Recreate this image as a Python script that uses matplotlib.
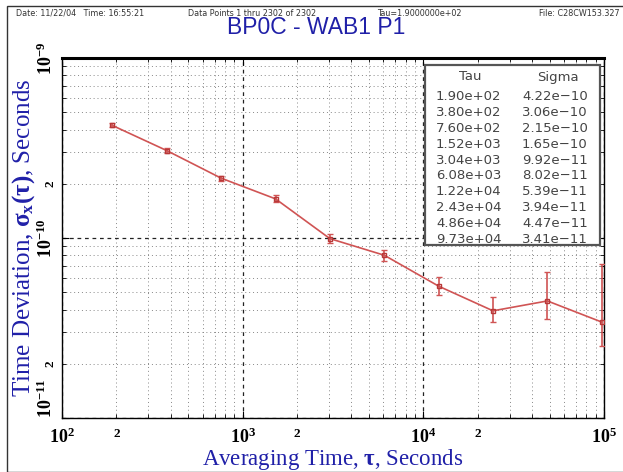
import numpy as np
import matplotlib
matplotlib.use('Agg')
import matplotlib.pyplot as plt
from matplotlib.ticker import FixedLocator, FuncFormatter
from matplotlib.patches import Rectangle

plt.rc('font', family='serif', serif=['Liberation Serif', 'DejaVu Serif'], weight='bold')
matplotlib.rcParams['mathtext.fontset'] = 'custom'
matplotlib.rcParams['mathtext.rm'] = 'Liberation Serif:bold'
matplotlib.rcParams['mathtext.bf'] = 'Liberation Serif:bold'
matplotlib.rcParams['mathtext.it'] = 'Liberation Serif:italic:bold'

# averaging time tau (s) and time deviation sigma_x(tau) (s)
tau = [1.90e+02, 3.80e+02, 7.60e+02, 1.52e+03, 3.04e+03,
       6.08e+03, 1.22e+04, 2.43e+04, 4.86e+04, 9.73e+04]
sigma = [4.22e-10, 3.06e-10, 2.15e-10, 1.65e-10, 9.92e-11,
         8.02e-11, 5.39e-11, 3.94e-11, 4.47e-11, 3.41e-11]
# error bar bounds
sig_lo = [4.12e-10, 2.98e-10, 2.08e-10, 1.58e-10, 9.40e-11,
          7.45e-11, 4.82e-11, 3.41e-11, 3.55e-11, 2.51e-11]
sig_hi = [4.33e-10, 3.15e-10, 2.22e-10, 1.73e-10, 1.05e-10,
          8.58e-11, 6.07e-11, 4.70e-11, 6.47e-11, 7.18e-11]

tau_lbl = ["%.2e" % t for t in tau]
sig_lbl = ["%.2e" % s for s in sigma]

header = ["Date: 11/22/04   Time: 16:55:21", "Data Points 1 thru 2302 of 2302",
          "Tau=1.9000000e+02", "File: C28CW153.327"]
title = "BP0C - WAB1 P1"
blue = '#2020a8'
red = '#d05454'

fig = plt.figure(figsize=(6.23, 4.72), dpi=100)
ax = fig.add_axes([62/623., 1-418/472., 542/623., 360/472.])

sig = np.array(sigma)
yerr = [sig - np.array(sig_lo), np.array(sig_hi) - sig]
ax.errorbar(tau, sigma, yerr=yerr, color=red, lw=1.2, marker='s', ms=3.5,
            mfc='none', mec='#b83838', mew=1.0, ecolor=red, elinewidth=1.2,
            capsize=2.5, zorder=5)

ax.set_xscale('log')
ax.set_yscale('log')
ax.set_xlim(1e2, 1e5)
ax.set_ylim(1e-11, 1e-9)

xmin = [m*10**k for k in (2, 3, 4) for m in range(2, 10)]
ymin = [m*10**k for k in (-11, -10) for m in range(2, 10)]
ax.xaxis.set_major_locator(FixedLocator([1e2, 1e3, 1e4, 1e5]))
ax.yaxis.set_major_locator(FixedLocator([1e-11, 1e-10, 1e-9]))
ax.xaxis.set_minor_locator(FixedLocator(xmin))
ax.yaxis.set_minor_locator(FixedLocator(ymin))

def major_fmt(v, pos):
    return r'$10^{%d}$' % int(round(np.log10(v)))

def minor_fmt(v, pos):
    m = v / 10**np.floor(np.log10(v) + 1e-9)
    return '2' if abs(m - 2) < 1e-6 else ''

for axis in (ax.xaxis, ax.yaxis):
    axis.set_major_formatter(FuncFormatter(major_fmt))
    axis.set_minor_formatter(FuncFormatter(minor_fmt))

ax.tick_params(which='both', direction='in', top=True, right=True)
ax.tick_params(which='major', length=5, labelsize=13)
ax.tick_params(which='minor', length=3, labelsize=9.5)
ax.tick_params(axis='x', which='both', pad=7)
ax.tick_params(axis='y', which='both', labelrotation=90, pad=4)
for lab in ax.get_yticklabels(which='both'):
    lab.set_va('center')
ax.get_yticklabels()[0].set_va('bottom')

ax.grid(which='minor', ls=(0, (1, 3)), color='#888888', lw=0.7)
ax.grid(which='major', ls=(0, (3, 3)), color='#222222', lw=0.9)

for s in ax.spines.values():
    s.set_linewidth(1.0)
ax.spines['top'].set_linewidth(2.2)

ax.set_xlabel(r'Averaging Time, $\mathrm{\tau}$, Seconds', color=blue,
              fontsize=16.5, labelpad=0)
ax.set_ylabel(r'Time Deviation, $\mathrm{\sigma_x(\tau)}$, Seconds', color=blue,
              fontsize=18, labelpad=0)

# table of values
bx0, by0 = 425, 65
bw, bh = 175, 180
axfr = lambda x, y: ((x - 62) / 542., (418 - y) / 360.)
x0, y0 = axfr(bx0, by0 + bh)
ax.add_patch(Rectangle((x0, y0), bw/542., bh/360., transform=ax.transAxes,
                       facecolor='white', edgecolor='#555555', lw=1.6, zorder=8))
tfont = dict(family='DejaVu Sans', weight='normal', color='#444444', fontsize=9.5,
             zorder=9, transform=ax.transAxes, va='center')
hx, hy = axfr(470, 77)
ax.text(hx, hy, 'Tau', ha='center', **tfont)
hx, hy = axfr(558, 77)
ax.text(hx, hy, 'Sigma', ha='center', **tfont)
for i in range(len(tau_lbl)):
    tx, ty = axfr(436, 97 + i*15.8)
    ax.text(tx, ty, tau_lbl[i], ha='left', **tfont)
    tx, ty = axfr(522, 97 + i*15.8)
    ax.text(tx, ty, sig_lbl[i].replace('-', '\u2212'), ha='left', **tfont)

# header line and title
hfont = dict(family='DejaVu Sans', weight='normal', fontsize=5.8, color='#333333', va='center')
fig.text(16/623., 1-13/472., header[0], ha='left', **hfont)
fig.text(252/623., 1-13/472., header[1], ha='center', **hfont)
fig.text(419/623., 1-13/472., header[2], ha='center', **hfont)
fig.text(620/623., 1-13/472., header[3], ha='right', **hfont)
fig.text(316/623., 1-28/472., title, ha='center', va='center', color=blue,
         family='Liberation Sans', weight='normal', fontsize=16.5)

# outer frame
fig.add_artist(Rectangle((7/623., 0.0), 1.2, 1-6/472., transform=fig.transFigure,
                         fill=False, edgecolor='#333333', lw=1.0))

fig.savefig('out.png', dpi=100)
